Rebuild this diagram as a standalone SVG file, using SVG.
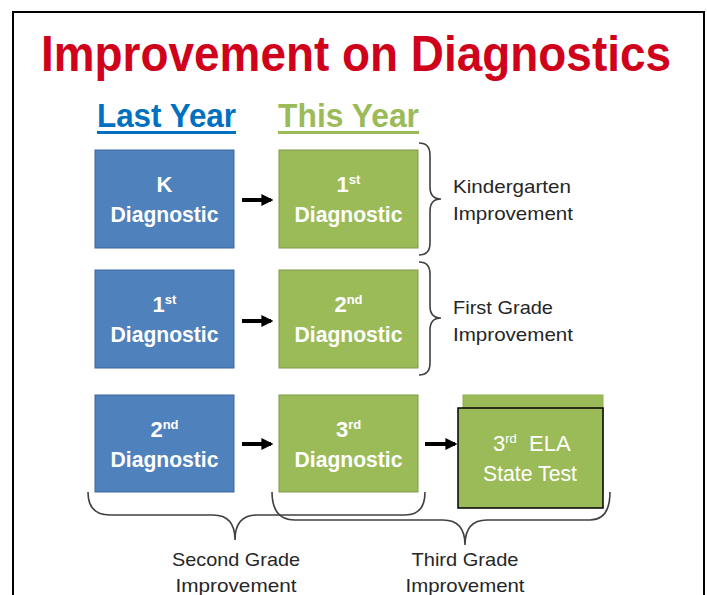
<svg xmlns="http://www.w3.org/2000/svg" width="707" height="595" viewBox="0 0 707 595">
<defs>
<style>
.bl{fill:#4F81BD;stroke:#3A679C;stroke-width:1}
.gr{fill:#9BBB59;stroke:#7F9A48;stroke-width:1}
.bt{font-family:"Liberation Sans",Arial,sans-serif;font-size:22px;font-weight:bold;fill:#fff;text-anchor:middle}
.lab{font-family:"Liberation Sans",Arial,sans-serif;font-size:19px;fill:#262626}
.br{fill:none;stroke:#404040;stroke-width:1.6}
.ar{stroke:#000;stroke-width:4;fill:none}
</style>
<marker id="ah" viewBox="0 0 10 10" refX="8" refY="5" markerWidth="3" markerHeight="3" orient="auto" markerUnits="strokeWidth">
<path d="M0,0 L10,5 L0,10 Z" fill="#000"/>
</marker>
</defs>
<rect x="0" y="0" width="707" height="595" fill="#fff"/>
<rect x="13" y="12" width="691" height="600" fill="#fff" stroke="#000" stroke-width="2"/>
<text x="356" y="71" text-anchor="middle" font-family="Liberation Sans,Arial,sans-serif" font-size="50" font-weight="bold" fill="#D0021B" textLength="630" lengthAdjust="spacingAndGlyphs">Improvement on Diagnostics</text>
<text x="97" y="127" font-family="Liberation Sans,Arial,sans-serif" font-size="34" font-weight="bold" fill="#0070C0" textLength="139" lengthAdjust="spacingAndGlyphs">Last Year</text>
<rect x="97" y="131" width="139" height="3" fill="#0070C0"/>
<text x="278" y="127" font-family="Liberation Sans,Arial,sans-serif" font-size="34" font-weight="bold" fill="#9BBB59" textLength="141" lengthAdjust="spacingAndGlyphs">This Year</text>
<rect x="278" y="131" width="141" height="3" fill="#9BBB59"/>

<g id="n-k"><rect class="bl" x="95" y="150" width="139" height="98"/><text class="bt" x="164.5" y="192">K</text><text class="bt" x="164.5" y="222" textLength="108" lengthAdjust="spacingAndGlyphs">Diagnostic</text></g>
<g id="n-1st-this"><rect class="gr" x="279" y="150" width="139" height="98"/><text class="bt" x="348.5" y="192">1<tspan font-size="13" dy="-8">st</tspan></text><text class="bt" x="348.5" y="222" textLength="108" lengthAdjust="spacingAndGlyphs">Diagnostic</text></g>
<g id="n-1st-last"><rect class="bl" x="95" y="270" width="139" height="98"/><text class="bt" x="164.5" y="312">1<tspan font-size="13" dy="-8">st</tspan></text><text class="bt" x="164.5" y="342" textLength="108" lengthAdjust="spacingAndGlyphs">Diagnostic</text></g>
<g id="n-2nd-this"><rect class="gr" x="279" y="270" width="139" height="98"/><text class="bt" x="348.5" y="312">2<tspan font-size="13" dy="-8">nd</tspan></text><text class="bt" x="348.5" y="342" textLength="108" lengthAdjust="spacingAndGlyphs">Diagnostic</text></g>
<g id="n-2nd-last"><rect class="bl" x="95" y="395" width="139" height="97"/><text class="bt" x="164.5" y="437">2<tspan font-size="13" dy="-8">nd</tspan></text><text class="bt" x="164.5" y="467" textLength="108" lengthAdjust="spacingAndGlyphs">Diagnostic</text></g>
<g id="n-3rd-this"><rect class="gr" x="279" y="395" width="139" height="97"/><text class="bt" x="348.5" y="437">3<tspan font-size="13" dy="-8">rd</tspan></text><text class="bt" x="348.5" y="467" textLength="108" lengthAdjust="spacingAndGlyphs">Diagnostic</text></g>
<g id="n-ela">
<rect x="463" y="395" width="140" height="98" fill="#9BBB59" stroke="#8FAE50" stroke-width="1"/>
<rect x="458" y="408" width="145" height="100" fill="#9BBB59" stroke="#000" stroke-width="1.5"/>
<text x="493" y="451" font-family="Liberation Sans,Arial,sans-serif" font-size="22" fill="#fff">3<tspan font-size="13" dy="-8">rd</tspan><tspan dy="8" xml:space="preserve">  ELA</tspan></text>
<text x="530" y="481" text-anchor="middle" font-family="Liberation Sans,Arial,sans-serif" font-size="22" fill="#fff" textLength="94" lengthAdjust="spacingAndGlyphs">State Test</text>
</g>

<g id="connectors">
<line class="ar" x1="242" y1="200" x2="271" y2="200" marker-end="url(#ah)"/>
<line class="ar" x1="242" y1="321" x2="271" y2="321" marker-end="url(#ah)"/>
<line class="ar" x1="242" y1="444" x2="271" y2="444" marker-end="url(#ah)"/>
<line class="ar" x1="425" y1="444" x2="455" y2="444" marker-end="url(#ah)"/>
<path class="br" d="M419,143 Q430,143 430,155 L430,187 Q430,199 441,199 Q430,199 430,211 L430,243 Q430,255 419,255"/>
<path class="br" d="M419,262 Q430,262 430,274 L430,306 Q430,318 441,318 Q430,318 430,330 L430,363 Q430,375 419,375"/>
<path class="br" d="M88,492 Q88,515 110,515 L213,515 Q235,515 235,540 Q235,515 257,515 L405,515 Q425,515 425,492"/>
<path class="br" d="M272,492 Q272,520 295,520 L443,520 Q465,520 465,545 Q465,520 487,520 L590,520 Q610,520 610,492"/>
</g>

<g id="labels">
<text class="lab" x="453" y="193" textLength="118" lengthAdjust="spacingAndGlyphs">Kindergarten</text>
<text class="lab" x="453" y="220" textLength="120" lengthAdjust="spacingAndGlyphs">Improvement</text>
<text class="lab" x="453" y="314" textLength="100" lengthAdjust="spacingAndGlyphs">First Grade</text>
<text class="lab" x="453" y="341" textLength="120" lengthAdjust="spacingAndGlyphs">Improvement</text>
<text class="lab" x="236" y="566" text-anchor="middle" textLength="128" lengthAdjust="spacingAndGlyphs">Second Grade</text>
<text class="lab" x="236" y="592" text-anchor="middle" textLength="121" lengthAdjust="spacingAndGlyphs">Improvement</text>
<text class="lab" x="465" y="566" text-anchor="middle" textLength="107" lengthAdjust="spacingAndGlyphs">Third Grade</text>
<text class="lab" x="465" y="592" text-anchor="middle" textLength="119" lengthAdjust="spacingAndGlyphs">Improvement</text>
</g>
</svg>
